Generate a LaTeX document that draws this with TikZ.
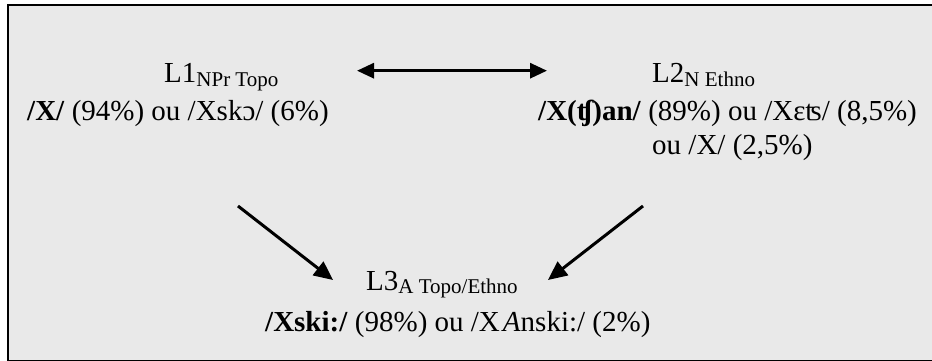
\documentclass[tikz,border=0pt]{standalone}
\usepackage{fontspec}
\setmainfont{Liberation Serif}
\usetikzlibrary{arrows.meta}
\newcommand{\mysub}[1]{\raisebox{-3.5pt}{\fontsize{21}{21}\selectfont #1}}
\tikzset{
  txt/.style={anchor=base west, inner sep=0pt, font=\fontsize{29}{33}\selectfont},
  arr/.style={line width=3pt, -{Triangle[length=19pt,width=17pt]}},
  darr/.style={line width=3pt, {Triangle[length=17pt,width=15pt]}-{Triangle[length=17pt,width=15pt]}}
}
\begin{document}
\begin{tikzpicture}[x=1pt,y=-1pt]
\useasboundingbox (0,0) rectangle (932,361);
\fill[white] (0,0) rectangle (932,361);
\draw[line width=2pt, fill={rgb,255:red,233;green,233;blue,233}] (7.7,5) rectangle (945,360.5);
% texts
\node[txt] (l1) at (164,83) {L1\mysub{NPr Topo}};
\node[txt] (l1b) at (27,121) {\textbf{/X/} (94\%) ou /Xskɔ/ (6\%)};
\node[txt] (l2) at (652,83) {L2\mysub{N Ethno}};
\node[txt] (l2b) at (538,120) {\textbf{/X(ʧ)an/} (89\%) ou /Xɛʦ/ (8,5\%)};
\node[txt] (l2c) at (652,154) {ou /X/ (2,5\%)};
\node[txt] (l3) at (366,290) {L3\mysub{A Topo/Ethno}};
\node[txt] (l3b) at (265,331) {\textbf{/Xski:/} (98\%) ou /X\kern3pt\textit{A}nski:/ (2\%)};
% arrow ends
\coordinate (d1) at (357,70.7);
\coordinate (d2) at (547,70.7);
\coordinate (a1s) at (238,206);
\coordinate (a1e) at (333,280);
\coordinate (a2s) at (643,206);
\coordinate (a2e) at (548,280);
\draw[darr] (d1) -- (d2);
\draw[arr] (a1s) -- (a1e);
\draw[arr] (a2s) -- (a2e);
\end{tikzpicture}
\end{document}
